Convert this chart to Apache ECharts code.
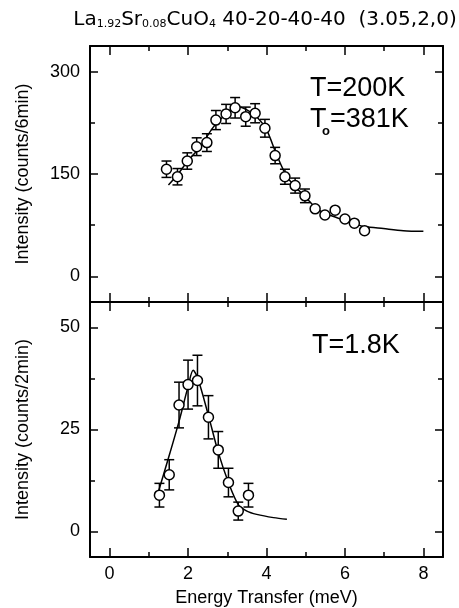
<!DOCTYPE html>
<html>
<head>
<meta charset="utf-8">
<script src="https://cdn.jsdelivr.net/npm/echarts@6.0.0/dist/echarts.min.js"></script>
<style>
  html, body { margin: 0; padding: 0; background: #fff; }
  #chart { width: 459px; height: 608px; }
</style>
</head>
<body>
<div id="chart"></div>
<script>
// ---------- data ----------
const energyTop = [1.45, 1.73, 1.98, 2.22, 2.48, 2.71, 2.97, 3.20, 3.47, 3.71, 3.96, 4.22, 4.47, 4.73, 4.98, 5.24, 5.49, 5.75, 6.00, 6.24, 6.50];
const countsTop = [157, 146, 169, 190, 196, 229, 238, 247, 234, 239, 217, 177, 146, 133, 118, 99, 90, 97, 84, 78, 67];
const errTop    = [12, 12, 12, 13, 13, 14, 14, 15, 14, 14, 13, 12, 11, 11, 10, 0, 0, 0, 0, 0, 0];
const fitTopE   = [1.50, 1.73, 1.98, 2.31, 2.65, 2.99, 3.24, 3.50, 3.75, 4.00, 4.26, 4.52, 4.77, 4.98, 5.24, 5.49, 5.75, 6.00, 6.24, 6.50, 6.98, 7.49, 8.00];
const fitTopI   = [134, 149, 168, 190, 219, 239, 249, 244, 234, 215, 178, 146, 129, 117, 101.5, 92, 87, 81.5, 77, 73, 70, 67, 66];

const energyBot = [1.27, 1.52, 1.77, 2.00, 2.24, 2.52, 2.77, 3.03, 3.28, 3.54];
const countsBot = [8.9, 13.9, 31, 36, 37, 28, 20, 12, 5, 8.9];
const errBot    = [2.9, 3.7, 5.6, 6, 6.2, 5.3, 4.5, 3.5, 2.2, 2.9];
const fitBotE   = [1.22, 1.50, 1.77, 2.00, 2.13, 2.25, 2.52, 2.77, 3.03, 3.28, 3.50, 3.75, 4.18, 4.52];
const fitBotI   = [9, 18, 27, 35.5, 39.5, 37.5, 28.4, 19.4, 12, 6.6, 5, 4.2, 3.4, 3.0];

const xMajorTicks    = [0, 2, 4, 6, 8];
const xMinorTicks    = [1, 3, 5, 7];
const yTopMajorTicks = [0, 150, 300];
const yTopMinorTicks = [75, 225];
const yBotMajorTicks = [0, 25, 50];
const yBotMinorTicks = [12.5, 37.5];

const titleText = '{m|La}{s|1.92}{m|Sr}{s|0.08}{m|CuO}{s|4}{m| 40-20-40-40  (3.05,2,0)}';
const xName = 'Energy Transfer (meV)';
const yNameTop = 'Intensity (counts/6min)';
const yNameBot = 'Intensity (counts/2min)';

// ---------- build ----------
const FONT = 'Liberation Sans';
const BLACK = '#000';
const xRange = { min: -0.5, max: 8.5 };
const yTopRange = { min: -37.5, max: 337.5 };
const yBotRange = { min: -6.25, max: 56.25 };

function axis(kind, grid, pos, range, ticks, len, showLine, extra) {
  return Object.assign({
    type: 'value', gridIndex: grid, position: pos,
    min: range.min, max: range.max,
    axisLine: { show: showLine, onZero: false, lineStyle: { color: BLACK, width: 2 } },
    axisTick: { show: true, inside: true, length: len, customValues: ticks, lineStyle: { color: BLACK, width: 1.5 } },
    axisLabel: { show: false },
    splitLine: { show: false }
  }, extra || {});
}

const labelStyle = { show: true, color: BLACK, fontFamily: FONT, fontSize: 18, margin: 10 };

const xAxes = [
  axis('x', 0, 'bottom', xRange, xMajorTicks, 9, true),   // 0
  axis('x', 0, 'bottom', xRange, xMinorTicks, 5, false),  // 1
  axis('x', 0, 'top', xRange, xMajorTicks, 9, true),      // 2
  axis('x', 0, 'top', xRange, xMinorTicks, 5, false),     // 3
  axis('x', 1, 'bottom', xRange, xMajorTicks, 9, true, {  // 4
    axisLabel: Object.assign({}, labelStyle, { customValues: xMajorTicks, margin: 8 }),
    name: xName, nameLocation: 'middle', nameGap: 32,
    nameTextStyle: { color: BLACK, fontFamily: FONT, fontSize: 18 }
  }),
  axis('x', 1, 'bottom', xRange, xMinorTicks, 5, false),  // 5
  axis('x', 1, 'top', xRange, xMajorTicks, 9, true),      // 6
  axis('x', 1, 'top', xRange, xMinorTicks, 5, false)      // 7
];

const yAxes = [
  axis('y', 0, 'left', yTopRange, yTopMajorTicks, 8, true, {  // 0
    axisLabel: Object.assign({}, labelStyle, { customValues: yTopMajorTicks }),
    name: yNameTop, nameLocation: 'middle', nameGap: 58,
    nameTextStyle: { color: BLACK, fontFamily: FONT, fontSize: 18 }
  }),
  axis('y', 0, 'left', yTopRange, yTopMinorTicks, 5, false),   // 1
  axis('y', 0, 'right', yTopRange, yTopMajorTicks, 8, true),   // 2
  axis('y', 0, 'right', yTopRange, yTopMinorTicks, 5, false),  // 3
  axis('y', 1, 'left', yBotRange, yBotMajorTicks, 8, true, {   // 4
    axisLabel: Object.assign({}, labelStyle, { customValues: yBotMajorTicks }),
    name: yNameBot, nameLocation: 'middle', nameGap: 58,
    nameTextStyle: { color: BLACK, fontFamily: FONT, fontSize: 18 }
  }),
  axis('y', 1, 'left', yBotRange, yBotMinorTicks, 5, false),   // 5
  axis('y', 1, 'right', yBotRange, yBotMajorTicks, 8, true),   // 6
  axis('y', 1, 'right', yBotRange, yBotMinorTicks, 5, false)   // 7
];

function pairs(xs, ys) { return xs.map((x, i) => [x, ys[i]]); }
function errData(xs, ys, es) {
  const out = [];
  xs.forEach((x, i) => { if (es[i] > 0) out.push([x, ys[i] - es[i], ys[i] + es[i]]); });
  return out;
}

function renderErr(params, api) {
  const x = api.value(0);
  const lo = api.coord([x, api.value(1)]);
  const hi = api.coord([x, api.value(2)]);
  const h = 5;
  const st = { stroke: BLACK, lineWidth: 1.5 };
  return {
    type: 'group',
    children: [
      { type: 'line', shape: { x1: lo[0], y1: lo[1], x2: hi[0], y2: hi[1] }, style: st },
      { type: 'line', shape: { x1: lo[0] - h, y1: lo[1], x2: lo[0] + h, y2: lo[1] }, style: st },
      { type: 'line', shape: { x1: hi[0] - h, y1: hi[1], x2: hi[0] + h, y2: hi[1] }, style: st }
    ]
  };
}

function panelSeries(xi, yi, ex, ey, ee, fx, fy) {
  return [
    { type: 'line', xAxisIndex: xi, yAxisIndex: yi, data: pairs(fx, fy), showSymbol: false, symbol: 'none',
      smooth: 0.3, lineStyle: { color: BLACK, width: 1.5 }, z: 2, silent: true },
    { type: 'custom', xAxisIndex: xi, yAxisIndex: yi, data: errData(ex, ey, ee),
      encode: { x: 0, y: [1, 2] }, renderItem: renderErr, z: 3, silent: true },
    { type: 'scatter', xAxisIndex: xi, yAxisIndex: yi, data: pairs(ex, ey), symbol: 'circle', symbolSize: 10,
      itemStyle: { color: '#fff', borderColor: BLACK, borderWidth: 1.5, opacity: 1 }, z: 4, silent: true }
  ];
}

const chart = echarts.init(document.getElementById('chart'), null, { renderer: 'canvas' });
chart.setOption({
  animation: false,
  backgroundColor: '#fff',
  grid: [
    { left: 90, right: 16, top: 46, height: 256 },
    { left: 90, right: 16, top: 302, height: 255 }
  ],
  xAxis: xAxes,
  yAxis: yAxes,
  series: [].concat(
    panelSeries(0, 0, energyTop, countsTop, errTop, fitTopE, fitTopI),
    panelSeries(4, 4, energyBot, countsBot, errBot, fitBotE, fitBotI)
  ),
  graphic: [
    { type: 'text', x: 265, y: 20, z: 10, style: {
        text: titleText, align: 'center', verticalAlign: 'middle',
        rich: {
          m: { fontFamily: 'DejaVu Sans', fontSize: 20, lineHeight: 20, verticalAlign: 'bottom', fill: BLACK },
          s: { fontFamily: 'DejaVu Sans', fontSize: 11, lineHeight: 11, verticalAlign: 'bottom', fill: BLACK }
        } } },
    { type: 'text', x: 310, y: 89, z: 10, style: { text: 'T=200K', fontFamily: FONT, fontSize: 27, fill: BLACK, align: 'left', verticalAlign: 'middle' } },
    { type: 'text', x: 310, y: 120, z: 10, style: { text: 'T', fontFamily: FONT, fontSize: 27, fill: BLACK, align: 'left', verticalAlign: 'middle' } },
    { type: 'text', x: 322, y: 131, z: 10, style: { text: 'o', fontFamily: FONT, fontSize: 13, fontWeight: 'bold', fill: BLACK, align: 'left', verticalAlign: 'middle' } },
    { type: 'text', x: 330, y: 120, z: 10, style: { text: '=381K', fontFamily: FONT, fontSize: 27, fill: BLACK, align: 'left', verticalAlign: 'middle' } },
    { type: 'text', x: 312, y: 346, z: 10, style: { text: 'T=1.8K', fontFamily: FONT, fontSize: 27, fill: BLACK, align: 'left', verticalAlign: 'middle' } }
  ]
});
</script>
</body>
</html>
